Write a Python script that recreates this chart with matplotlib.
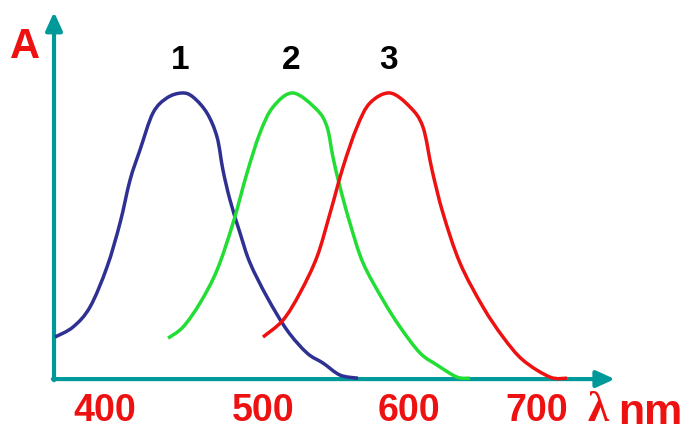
import numpy as np
import matplotlib
matplotlib.use("Agg")
import matplotlib.pyplot as plt
from matplotlib.path import Path
from matplotlib.patches import PathPatch

# absorption spectra of the three cone pigments (wavelength nm, relative absorbance)
blue_wl = [365.3, 377.8, 389.6, 401.4, 410.4, 417.4, 424.3, 433.3, 443.1, 453.5, 461.1,
           470.8, 477.8, 481.9, 486.8, 493.8, 500.7, 512.5, 526.4, 540.3, 551.4, 563.2, 575.7]
blue_A = [0.147, 0.182, 0.252, 0.392, 0.545, 0.696, 0.801, 0.930, 0.983, 1.0, 0.986,
          0.930, 0.846, 0.731, 0.626, 0.510, 0.406, 0.287, 0.171, 0.091, 0.056, 0.014, 0.003]

green_wl = [443.8, 454.2, 466.0, 477.8, 488.9, 498.6, 507.6, 516.7, 530.6, 547.2, 554.2,
            558.3, 563.2, 570.1, 579.2, 593.1, 604.9, 618.8, 630.6, 644.4, 653.5]
green_A = [0.143, 0.182, 0.266, 0.381, 0.545, 0.720, 0.860, 0.951, 1.0, 0.941, 0.881,
           0.776, 0.671, 0.545, 0.406, 0.276, 0.182, 0.091, 0.049, 0.007, 0.003]

red_wl = [509.7, 523.6, 535.4, 547.2, 556.3, 565.3, 575.0, 584.0, 597.9, 611.8, 620.8,
          627.1, 634.7, 646.5, 662.5, 676.4, 690.3, 709.0, 720.8]
red_A = [0.147, 0.206, 0.301, 0.427, 0.580, 0.741, 0.881, 0.965, 1.0, 0.951, 0.881,
         0.731, 0.580, 0.406, 0.252, 0.147, 0.066, 0.007, 0.003]

curve_names = ["1", "2", "3"]
tick_pos = [400, 510, 611, 700]
tick_labels = ["400", "500", "600", "700"]

TEAL = "#009999"
RED = "#EE1111"
curve_colors = ["#2E3192", "#22DD33", "#EE1111"]


def smooth_path(x, y):
    # bezier path through the read points (catmull-rom style handles), just for drawing
    pts = np.column_stack([x, y])
    verts = [pts[0]]
    codes = [Path.MOVETO]
    n = len(pts)
    for i in range(n - 1):
        p0 = pts[max(i - 1, 0)]
        p1 = pts[i]
        p2 = pts[i + 1]
        p3 = pts[min(i + 2, n - 1)]
        verts += [p1 + (p2 - p0) / 6, p2 - (p3 - p1) / 6, p2]
        codes += [Path.CURVE4] * 3
    return Path(verts, codes)


fig = plt.figure(figsize=(6.88, 4.32), dpi=100)
ax = fig.add_axes([0, 0, 1, 1])
ax.set_xlim(327.08, 804.86)
ax.set_ylim(-0.185, 1.325)
ax.axis("off")

x0, x1 = 364.6, 754.0   # y axis position / x arrow tip
y1 = 1.283              # y arrow tip
arrow = dict(arrowstyle="-|>,head_length=1.1,head_width=0.5", lw=3, color=TEAL,
             shrinkA=0, shrinkB=0, mutation_scale=10)
ax.annotate("", xy=(x1, 0), xytext=(x0 - 0.8, 0), arrowprops=arrow)
ax.annotate("", xy=(x0, y1), xytext=(x0, -0.004), arrowprops=arrow)

series = [(blue_wl, blue_A), (green_wl, green_A), (red_wl, red_A)]
for (wl, a), c, name in zip(series, curve_colors, curve_names):
    ax.add_patch(PathPatch(smooth_path(wl, a), facecolor="none", edgecolor=c, lw=2.5,
                           joinstyle="round", capstyle="butt", zorder=3))
    peak = wl[int(np.argmax(a))]
    ax.text(peak - 1, 1.115, name, ha="center", va="center", fontsize=24,
            fontweight="bold", family="Liberation Sans", color="black")

for p, lab in zip(tick_pos, tick_labels):
    ax.text(p, -0.112, lab, ha="center", va="center", fontsize=27,
            fontweight="bold", family="Liberation Sans", color=RED)

ax.text(0.036, 0.891, "A", transform=ax.transAxes, ha="center", va="center",
        fontsize=30, fontweight="bold", family="Liberation Sans", color=RED)
ax.text(0.869, 0.048, "λ", transform=ax.transAxes, ha="center", va="center",
        fontsize=31, fontweight="bold", family="Liberation Serif", color=RED)
ax.text(0.898, 0.045, "nm", transform=ax.transAxes, ha="left", va="center",
        fontsize=31, fontweight="bold", family="Liberation Sans", color=RED)

fig.savefig("out.png", dpi=100)
